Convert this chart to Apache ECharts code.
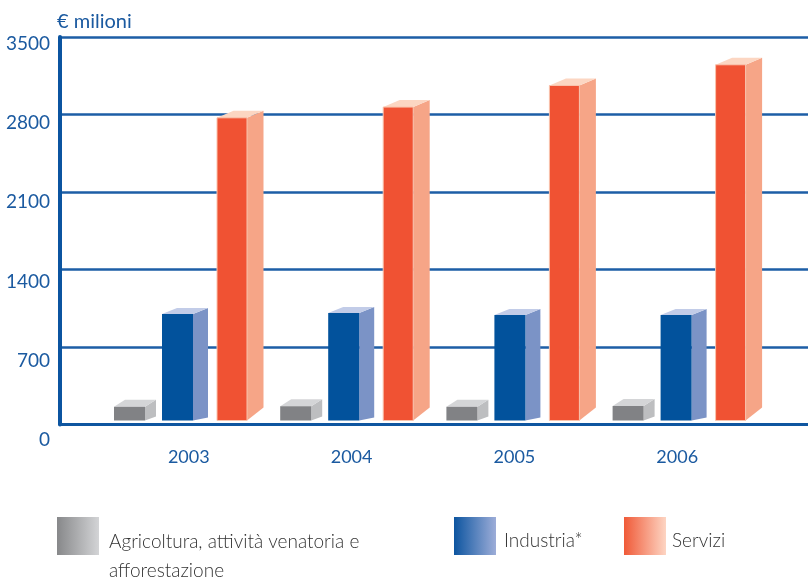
<!DOCTYPE html>
<html>
<head>
<meta charset="utf-8">
<script src="https://cdn.jsdelivr.net/npm/echarts@6/dist/echarts.min.js"></script>
<style>
html,body{margin:0;padding:0;background:#fff;}
#main{width:808px;height:578px;}
</style>
</head>
<body>
<div id="main"></div>
<script>
// ---- data ----
const years = ['2003', '2004', '2005', '2006'];
const agricoltura = [160, 165, 160, 167];
const industria = [997, 1006, 988, 988];
const servizi = [2770, 2867, 3062, 3249];
const yMin = 0, yMax = 3500, yInterval = 700;
const unitLabel = '€ milioni';
const seriesNames = ['Agricoltura, attività venatoria e afforestazione', 'Industria*', 'Servizi'];
const legendLines = [['Agricoltura, attività venatoria e', 'afforestazione'], ['Industria*'], ['Servizi']];

// ---- styles (geometry of the 3D look, in px relative to band of 166.2) ----
const BAND = 166.2;
const shapes = [
  { off0: -74, off1: -43, dx: 11, dyTop: -7, dyBot: -4, front: '#818285', side: '#bdbec0', top: '#d4d5d7', stroke: null },
  { off0: -26, off1: 5, dx: 15, dyTop: -6, dyBot: -3, front: '#02529c', side: '#7b93c6', top: '#c2cce8', stroke: null },
  { off0: 29, off1: 59, dx: 16.5, dyTop: -7, dyBot: -13, front: '#f05233', side: '#f6a587', top: '#fcd6c2', stroke: '#f9c3ad' }
];
const legendGradients = [
  ['#87888a', '#d3d4d6'],
  ['#0d55a0', '#9dadd8'],
  ['#f05a38', '#fdd5c3']
];
const blue = '#1b5aa0';

function makeRender(g) {
  return function (params, api) {
    const idx = api.value(0), v = api.value(1);
    const c = api.coord([idx, v]);
    const b = api.coord([idx, 0]);
    const k = api.size([1, 0])[0] / BAND;
    const x0 = c[0] + g.off0 * k, x1 = c[0] + g.off1 * k, dx = g.dx * k;
    const yt = c[1], yb = b[1] - 4;
    return {
      type: 'group',
      children: [
        { type: 'polygon', shape: { points: [[x1, yt], [x1 + dx, yt + g.dyTop], [x1 + dx, yb + g.dyBot], [x1, yb]] }, style: { fill: g.side } },
        { type: 'polygon', shape: { points: [[x0, yt], [x1, yt], [x1 + dx, yt + g.dyTop], [x0 + dx, yt + g.dyTop]] }, style: { fill: g.top } },
        { type: 'rect', shape: { x: x0, y: yt, width: x1 - x0, height: yb - yt }, style: g.stroke ? { fill: g.front, stroke: g.stroke, lineWidth: 1 } : { fill: g.front } }
      ]
    };
  };
}

const values = [agricoltura, industria, servizi];
const series = values.map((arr, s) => ({
  name: seriesNames[s],
  type: 'custom',
  xAxisIndex: 1,
  yAxisIndex: 1,
  renderItem: makeRender(shapes[s]),
  encode: { x: 0, y: 1 },
  itemStyle: {
    color: { type: 'linear', x: 0, y: 0, x2: 1, y2: 0, colorStops: [{ offset: 0, color: legendGradients[s][0] }, { offset: 1, color: legendGradients[s][1] }] }
  },
  data: years.map((y, i) => [i, arr[i]])
}));

const legendFont = { fontFamily: 'Lato', fontSize: 19, fontWeight: 300, color: '#333' };
const legendPos = [
  { left: 57, top: 505, spacer: 40, padLeft: 5 },
  { left: 454, top: 517, spacer: 9, padLeft: 3 },
  { left: 624, top: 517, spacer: 9, padLeft: 1 }
];

const option = {
  animation: false,
  backgroundColor: '#fff',
  title: { text: unitLabel, left: 52, top: 7, textStyle: { fontFamily: 'Lato', fontSize: 20, fontWeight: 'normal', color: blue } },
  legend: legendPos.map((p, s) => ({
    data: [seriesNames[s]], left: p.left, top: p.top, padding: 0, itemWidth: 42, itemHeight: 38, icon: 'rect',
    selectedMode: false,
    formatter: () => ['{sp| }'].concat(legendLines[s].map(t => '{t|' + t + '}')).join('\n'),
    textStyle: Object.assign({}, legendFont, {
      rich: {
        sp: { lineHeight: p.spacer, fontSize: 4, padding: [0, 0, 0, p.padLeft] },
        t: Object.assign({}, legendFont, { lineHeight: 29, padding: [0, 0, 0, p.padLeft] })
      }
    })
  })),
  grid: [
    { left: 60, right: 0, top: 37, bottom: 153.5 },           // gridlines + axes
    { left: 104.9, right: 38.3, top: 37, bottom: 153.5 },     // bars
    { left: 107.4, right: 49.4, top: 37, bottom: 153.5 },     // year labels
    { left: 60, right: 0, top: 43.7, bottom: 138 }            // value labels
  ],
  xAxis: [
    { gridIndex: 0, type: 'category', data: years, axisLine: { show: true, lineStyle: { color: '#0f56a0', width: 3 } }, axisTick: { show: false }, axisLabel: { show: false } },
    { gridIndex: 1, type: 'category', data: years, show: false },
    { gridIndex: 2, type: 'category', data: years, axisLine: { show: false }, axisTick: { show: false },
      axisLabel: { margin: 24, fontFamily: 'Lato', fontSize: 18, color: blue } },
    { gridIndex: 3, type: 'category', data: years, show: false }
  ],
  yAxis: [
    { gridIndex: 0, type: 'value', min: yMin, max: yMax, interval: yInterval,
      axisLine: { show: true, lineStyle: { color: '#0b54a0', width: 4 } }, axisTick: { show: false }, axisLabel: { show: false },
      splitLine: { show: true, lineStyle: { color: '#1d5ea6', width: 2.5 } } },
    { gridIndex: 1, type: 'value', min: yMin, max: yMax, interval: yInterval, show: false },
    { gridIndex: 2, type: 'value', min: yMin, max: yMax, interval: yInterval, show: false },
    { gridIndex: 3, type: 'value', min: yMin, max: yMax, interval: yInterval,
      axisLine: { show: false }, axisTick: { show: false }, splitLine: { show: false },
      axisLabel: { margin: 10, fontFamily: 'Lato', fontSize: 19, color: blue, formatter: (v) => String(v) } }
  ],
  series: series
};

const chart = echarts.init(document.getElementById('main'), null, { renderer: 'canvas' });
chart.setOption(option);
</script>
</body>
</html>
